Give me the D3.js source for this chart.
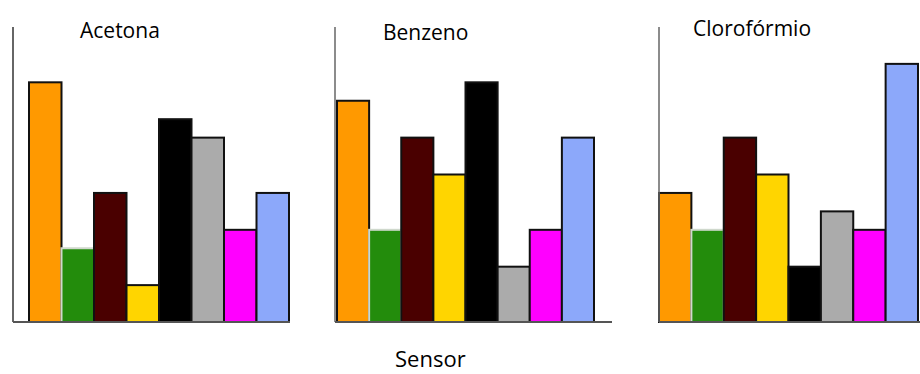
<!DOCTYPE html>
<html>
<head>
<meta charset="utf-8">
<script src="https://cdn.jsdelivr.net/npm/d3@7"></script>
<style>
  html, body { margin: 0; padding: 0; background: #fff; }
  svg { display: block; }
</style>
</head>
<body>
<svg id="chart" width="920" height="374"></svg>
<script>
// ---- data ----
const sensors = ["S1", "S2", "S3", "S4", "S5", "S6", "S7", "S8"];
const sensorColors = ["#FF9900", "#238C0C", "#4A0000", "#FFD500", "#000000", "#ABABAB", "#FF00FF", "#8CA8FA"];
const solvents = ["Acetona", "Benzeno", "Clorofórmio"];
const acetona = [13, 4, 7, 2, 11, 10, 5, 7];
const benzeno = [12, 5, 10, 8, 13, 3, 5, 10];
const cloroformio = [7, 5, 10, 8, 3, 6, 5, 14];
const xAxisTitle = "Sensor";

const seriesBySolvent = [acetona, benzeno, cloroformio];

// ---- layout ----
const svg = d3.select("#chart");
const baseY = 322, topY = 27;
const panels = [
  { axisX: 13,  barStart: 29,  barEnd: 289, axisEnd: 290, titleX: 80,  titleY: 38 },
  { axisX: 335, barStart: 337, barEnd: 594, axisEnd: 612, titleX: 383, titleY: 40 },
  { axisX: 659, barStart: 659, barEnd: 918, axisEnd: 920, titleX: 693, titleY: 36 }
];

const y = d3.scaleLinear().domain([0, 16]).range([baseY, topY]);

panels.forEach((p, i) => {
  const g = svg.append("g");
  const x = d3.scaleBand().domain(sensors).range([p.barStart, p.barEnd]).padding(0);

  g.selectAll("rect")
    .data(seriesBySolvent[i].map((v, k) => ({ s: sensors[k], v, c: sensorColors[k] })))
    .join("rect")
    .attr("x", d => x(d.s))
    .attr("y", d => y(d.v))
    .attr("width", x.bandwidth())
    .attr("height", d => y(0) - y(d.v))
    .attr("fill", d => d.c)
    .attr("stroke", d => d.c === "#238C0C" ? "#cfd8cc" : "#111")
    .attr("stroke-width", 2);

  // axes lines
  g.append("line")
    .attr("x1", p.axisX).attr("x2", p.axisX)
    .attr("y1", y.range()[1]).attr("y2", y(0))
    .attr("stroke", "#666").attr("stroke-width", i === 0 ? 2 : 1.5);
  g.append("line")
    .attr("x1", p.axisX).attr("x2", p.axisEnd)
    .attr("y1", y(0)).attr("y2", y(0))
    .attr("stroke", "#555").attr("stroke-width", 2);

  g.append("text")
    .attr("x", p.titleX).attr("y", p.titleY)
    .attr("font-family", "Open Sans, sans-serif")
    .attr("font-size", 21)
    .attr("font-weight", 500)
    .attr("fill", "#000")
    .text(solvents[i]);
});

svg.append("text")
  .attr("x", 395).attr("y", 367)
  .attr("font-family", "Open Sans, sans-serif")
  .attr("font-size", 22)
  .attr("font-weight", 500)
  .attr("fill", "#000")
  .text(xAxisTitle);
</script>
</body>
</html>
